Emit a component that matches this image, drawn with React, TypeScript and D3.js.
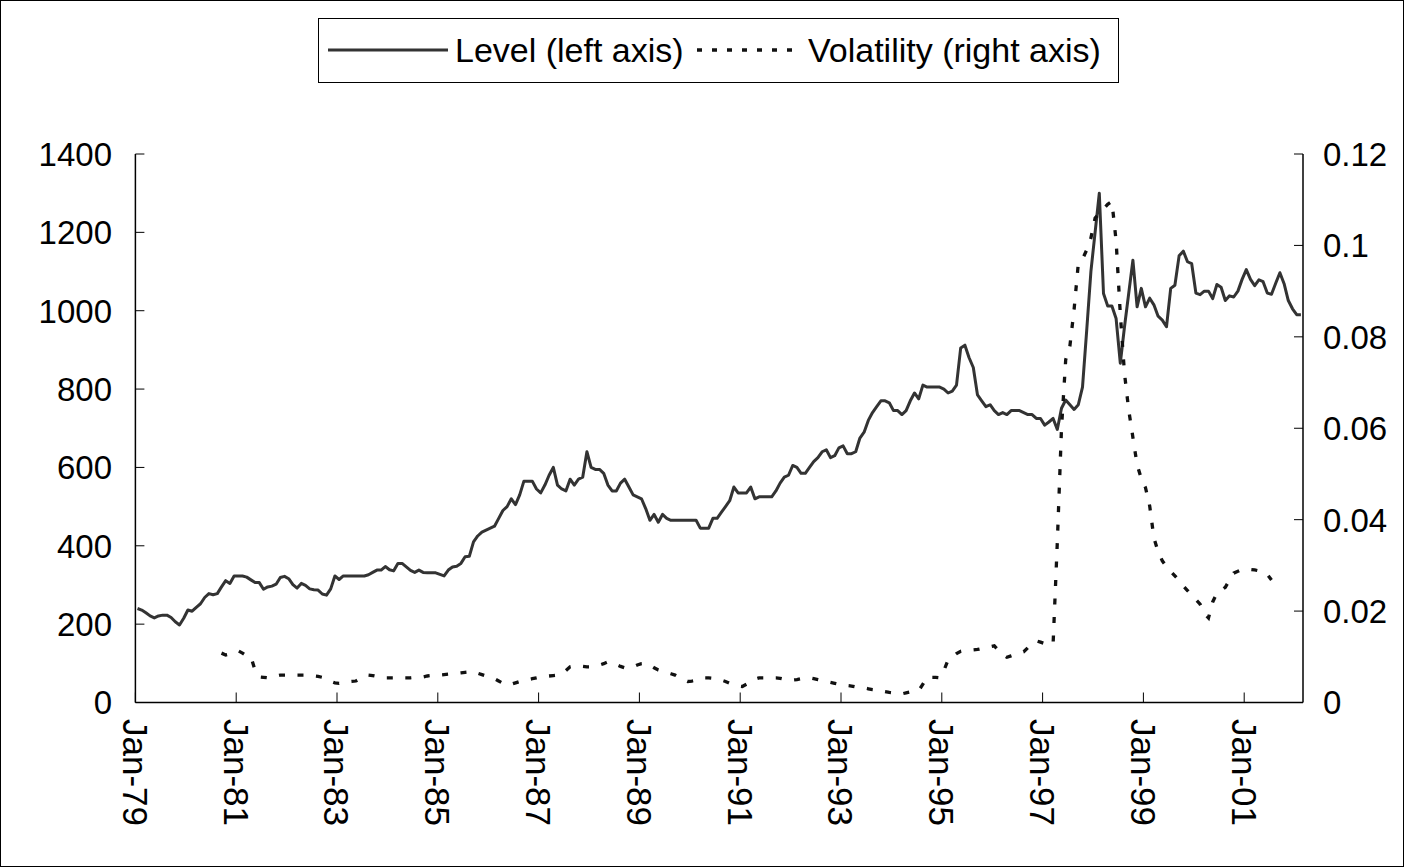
import React from "react";
import * as d3 from "d3";

const W = 1404;
const H = 867;

const xTickLabels = ["Jan-79","Jan-81","Jan-83","Jan-85","Jan-87","Jan-89","Jan-91","Jan-93","Jan-95","Jan-97","Jan-99","Jan-01"];
const xTickIdx = [0,24,48,72,96,120,144,168,192,216,240,264];
const leftTicks = [0,200,400,600,800,1000,1200,1400];
const rightTicks = [0,0.02,0.04,0.06,0.08,0.1,0.12];
const rightTickLabels = ["0","0.02","0.04","0.06","0.08","0.1","0.12"];

// Monthly level, Jan-79 .. Feb-02
const level = [
  240,236,229,221,216,221,223,223,217,206,
  198,215,236,233,243,252,268,278,275,278,
  295,311,304,323,323,323,320,313,306,306,
  289,295,297,302,319,322,316,301,292,304,
  299,290,288,287,277,274,290,323,314,323,
  323,323,323,323,323,326,332,338,338,347,
  339,336,355,355,346,337,332,338,332,331,
  331,331,327,323,338,346,348,355,372,373,
  410,425,435,440,445,450,470,490,500,520,
  505,530,565,565,565,545,535,555,580,600,
  555,545,540,570,555,570,575,640,600,595,
  595,585,555,540,540,560,570,550,530,525,
  520,495,465,480,460,480,470,465,465,465,
  465,465,465,465,445,445,445,470,470,485,
  500,515,550,535,535,535,550,520,525,525,
  525,525,540,560,575,580,605,600,585,585,
  600,615,625,640,645,625,630,650,655,635,
  635,640,675,690,720,740,755,770,770,765,
  745,745,735,745,770,790,775,810,805,805,
  805,805,800,790,795,810,905,912,880,855,
  785,770,755,760,745,735,740,735,745,745,
  745,740,735,735,725,725,708,716,725,697,
  751,772,760,748,760,805,950,1100,1200,1300,
  1044,1012,1012,980,866,959,1044,1129,1010,1057,
  1010,1032,1015,986,976,959,1057,1065,1140,1152,
  1125,1120,1045,1041,1050,1050,1031,1067,1060,1026,
  1038,1035,1050,1080,1105,1080,1064,1079,1074,1045,
  1042,1070,1097,1069,1026,1005,990,990
];

// Volatility starts at month index 20 (Sep-80)
const volStart = 20;
const volatility = [
  .0108,.0104,.0106,.0110,.0113,.0108,.0102,.0100,.0070,.0056,
  .0055,.0054,.0056,.0058,.0060,.0060,.0060,.0060,.0060,.0060,
  .0060,.0059,.0058,.0057,.0055,.0050,.0046,.0043,.0042,.0044,
  .0045,.0046,.0047,.0052,.0057,.0060,.0059,.0057,.0055,.0054,
  .0054,.0054,.0054,.0054,.0054,.0054,.0055,.0055,.0056,.0058,
  .0059,.0060,.0060,.0061,.0062,.0063,.0064,.0065,.0066,.0067,
  .0068,.0064,.0061,.0058,.0055,.0052,.0047,.0042,.0038,.0040,
  .0043,.0046,.0048,.0050,.0052,.0054,.0056,.0057,.0058,.0059,
  .0060,.0062,.0070,.0078,.0080,.0080,.0079,.0078,.0078,.0080,
  .0082,.0085,.0089,.0087,.0083,.0079,.0076,.0075,.0078,.0082,
  .0085,.0086,.0082,.0076,.0071,.0068,.0066,.0063,.0060,.0055,
  .0050,.0046,.0047,.0049,.0052,.0054,.0054,.0053,.0051,.0049,
  .0046,.0042,.0039,.0036,.0035,.0040,.0046,.0051,.0054,.0054,
  .0054,.0054,.0054,.0053,.0051,.0050,.0049,.0050,.0052,.0053,
  .0054,.0052,.0050,.0048,.0046,.0044,.0042,.0040,.0039,.0037,
  .0036,.0034,.0033,.0032,.0030,.0028,.0027,.0025,.0024,.0022,
  .0021,.0019,.0019,.0021,.0023,.0025,.0026,.0040,.0056,.0055,
  .0055,.0054,.0070,.0093,.0100,.0107,.0112,.0114,.0114,.0115,
  .0116,.0118,.0120,.0122,.0124,.0114,.0105,.0099,.0102,.0105,
  .0108,.0111,.0120,.0128,.0135,.0132,.0129,.0127,.0128,.0350,
  .0600,.0750,.0780,.0860,.0960,.0970,.0990,.1016,.1060,.1070,
  .1080,.1090,.1096,.1010,.0850,.0720,.0640,.0580,.0520,.0490,
  .0470,.0430,.0360,.0330,.0310,.0297,.0287,.0277,.0267,.0255,
  .0245,.0235,.0225,.0215,.0195,.0185,.0220,.0239,.0245,.0252,
  .0268,.0283,.0287,.0291,.0292,.0291,.0290,.0288,.0285,.0280,
  .0268
];

const legendItems = ["Level (left axis)", "Volatility (right axis)"];

const FONT = "'Liberation Sans', Arial, sans-serif";

export default function App() {
  const x = d3.scaleLinear().domain([0, level.length]).range([135.4, 1303]);
  const yL = d3.scaleLinear().domain([0, 1400]).range([702.5, 154]);
  const yR = d3.scaleLinear().domain([0, 0.12]).range([702.5, 154]);

  const levelLine = d3.line<number>()
    .x((_, i) => x(i + 0.5))
    .y((d) => yL(d))(level) || "";
  const volLine = d3.line<number>()
    .x((_, i) => x(volStart + i + 0.5))
    .y((d) => yR(d))(volatility) || "";

  const x0 = x(0), x1 = x(level.length);
  const yb = yL(0), yt = yL(1400);

  return (
    <svg width={W} height={H} style={{ position: "absolute", left: 0, top: 0, background: "#fff" }} fontFamily={FONT}>
      <rect x={0.5} y={0.5} width={W - 1} height={H - 1} fill="#fff" stroke="#000" strokeWidth={1} />
      {/* axes */}
      <line x1={x0} x2={x0} y1={yt} y2={yb} stroke="#000" strokeWidth={1.5} />
      <line x1={x1} x2={x1} y1={yt} y2={yb} stroke="#000" strokeWidth={1.5} />
      <line x1={x0} x2={x1} y1={yb} y2={yb} stroke="#000" strokeWidth={1.5} />
      {leftTicks.map((t) => (
        <g key={"l" + t}>
          <line x1={x0} x2={x0 + 9} y1={yL(t)} y2={yL(t)} stroke="#000" strokeWidth={1} />
          <text x={112} y={yL(t)} dy="0.36em" textAnchor="end" fontSize={33}>{t}</text>
        </g>
      ))}
      {rightTicks.map((t, k) => (
        <g key={"r" + t}>
          <line x1={x1 - 9} x2={x1} y1={yR(t)} y2={yR(t)} stroke="#000" strokeWidth={1} />
          <text x={1323} y={yR(t)} dy="0.36em" textAnchor="start" fontSize={33}>{rightTickLabels[k]}</text>
        </g>
      ))}
      {xTickIdx.map((t, k) => (
        <g key={"x" + t}>
          <line x1={x(t)} x2={x(t)} y1={yb} y2={yb - 10} stroke="#000" strokeWidth={1} />
          <text transform={`translate(${x(t)},${719}) rotate(90)`} dy="0.36em" textAnchor="start" fontSize={35}>{xTickLabels[k]}</text>
        </g>
      ))}
      {/* series */}
      <path d={levelLine} fill="none" stroke="#333" strokeWidth={3} strokeLinejoin="round" />
      <path d={volLine} fill="none" stroke="#111" strokeWidth={3.3} strokeDasharray="6 12.5" />
      {/* legend */}
      <rect x={318.5} y={18.5} width={800} height={64} fill="#fff" stroke="#000" strokeWidth={1} />
      <line x1={328} x2={448} y1={50} y2={50} stroke="#333" strokeWidth={3} />
      <text x={455} y={50} dy="0.36em" fontSize={34}>{legendItems[0]}</text>
      <line x1={697} x2={797} y1={50} y2={50} stroke="#111" strokeWidth={3.3} strokeDasharray="5 10" />
      <text x={808} y={50} dy="0.36em" fontSize={34}>{legendItems[1]}</text>
    </svg>
  );
}
